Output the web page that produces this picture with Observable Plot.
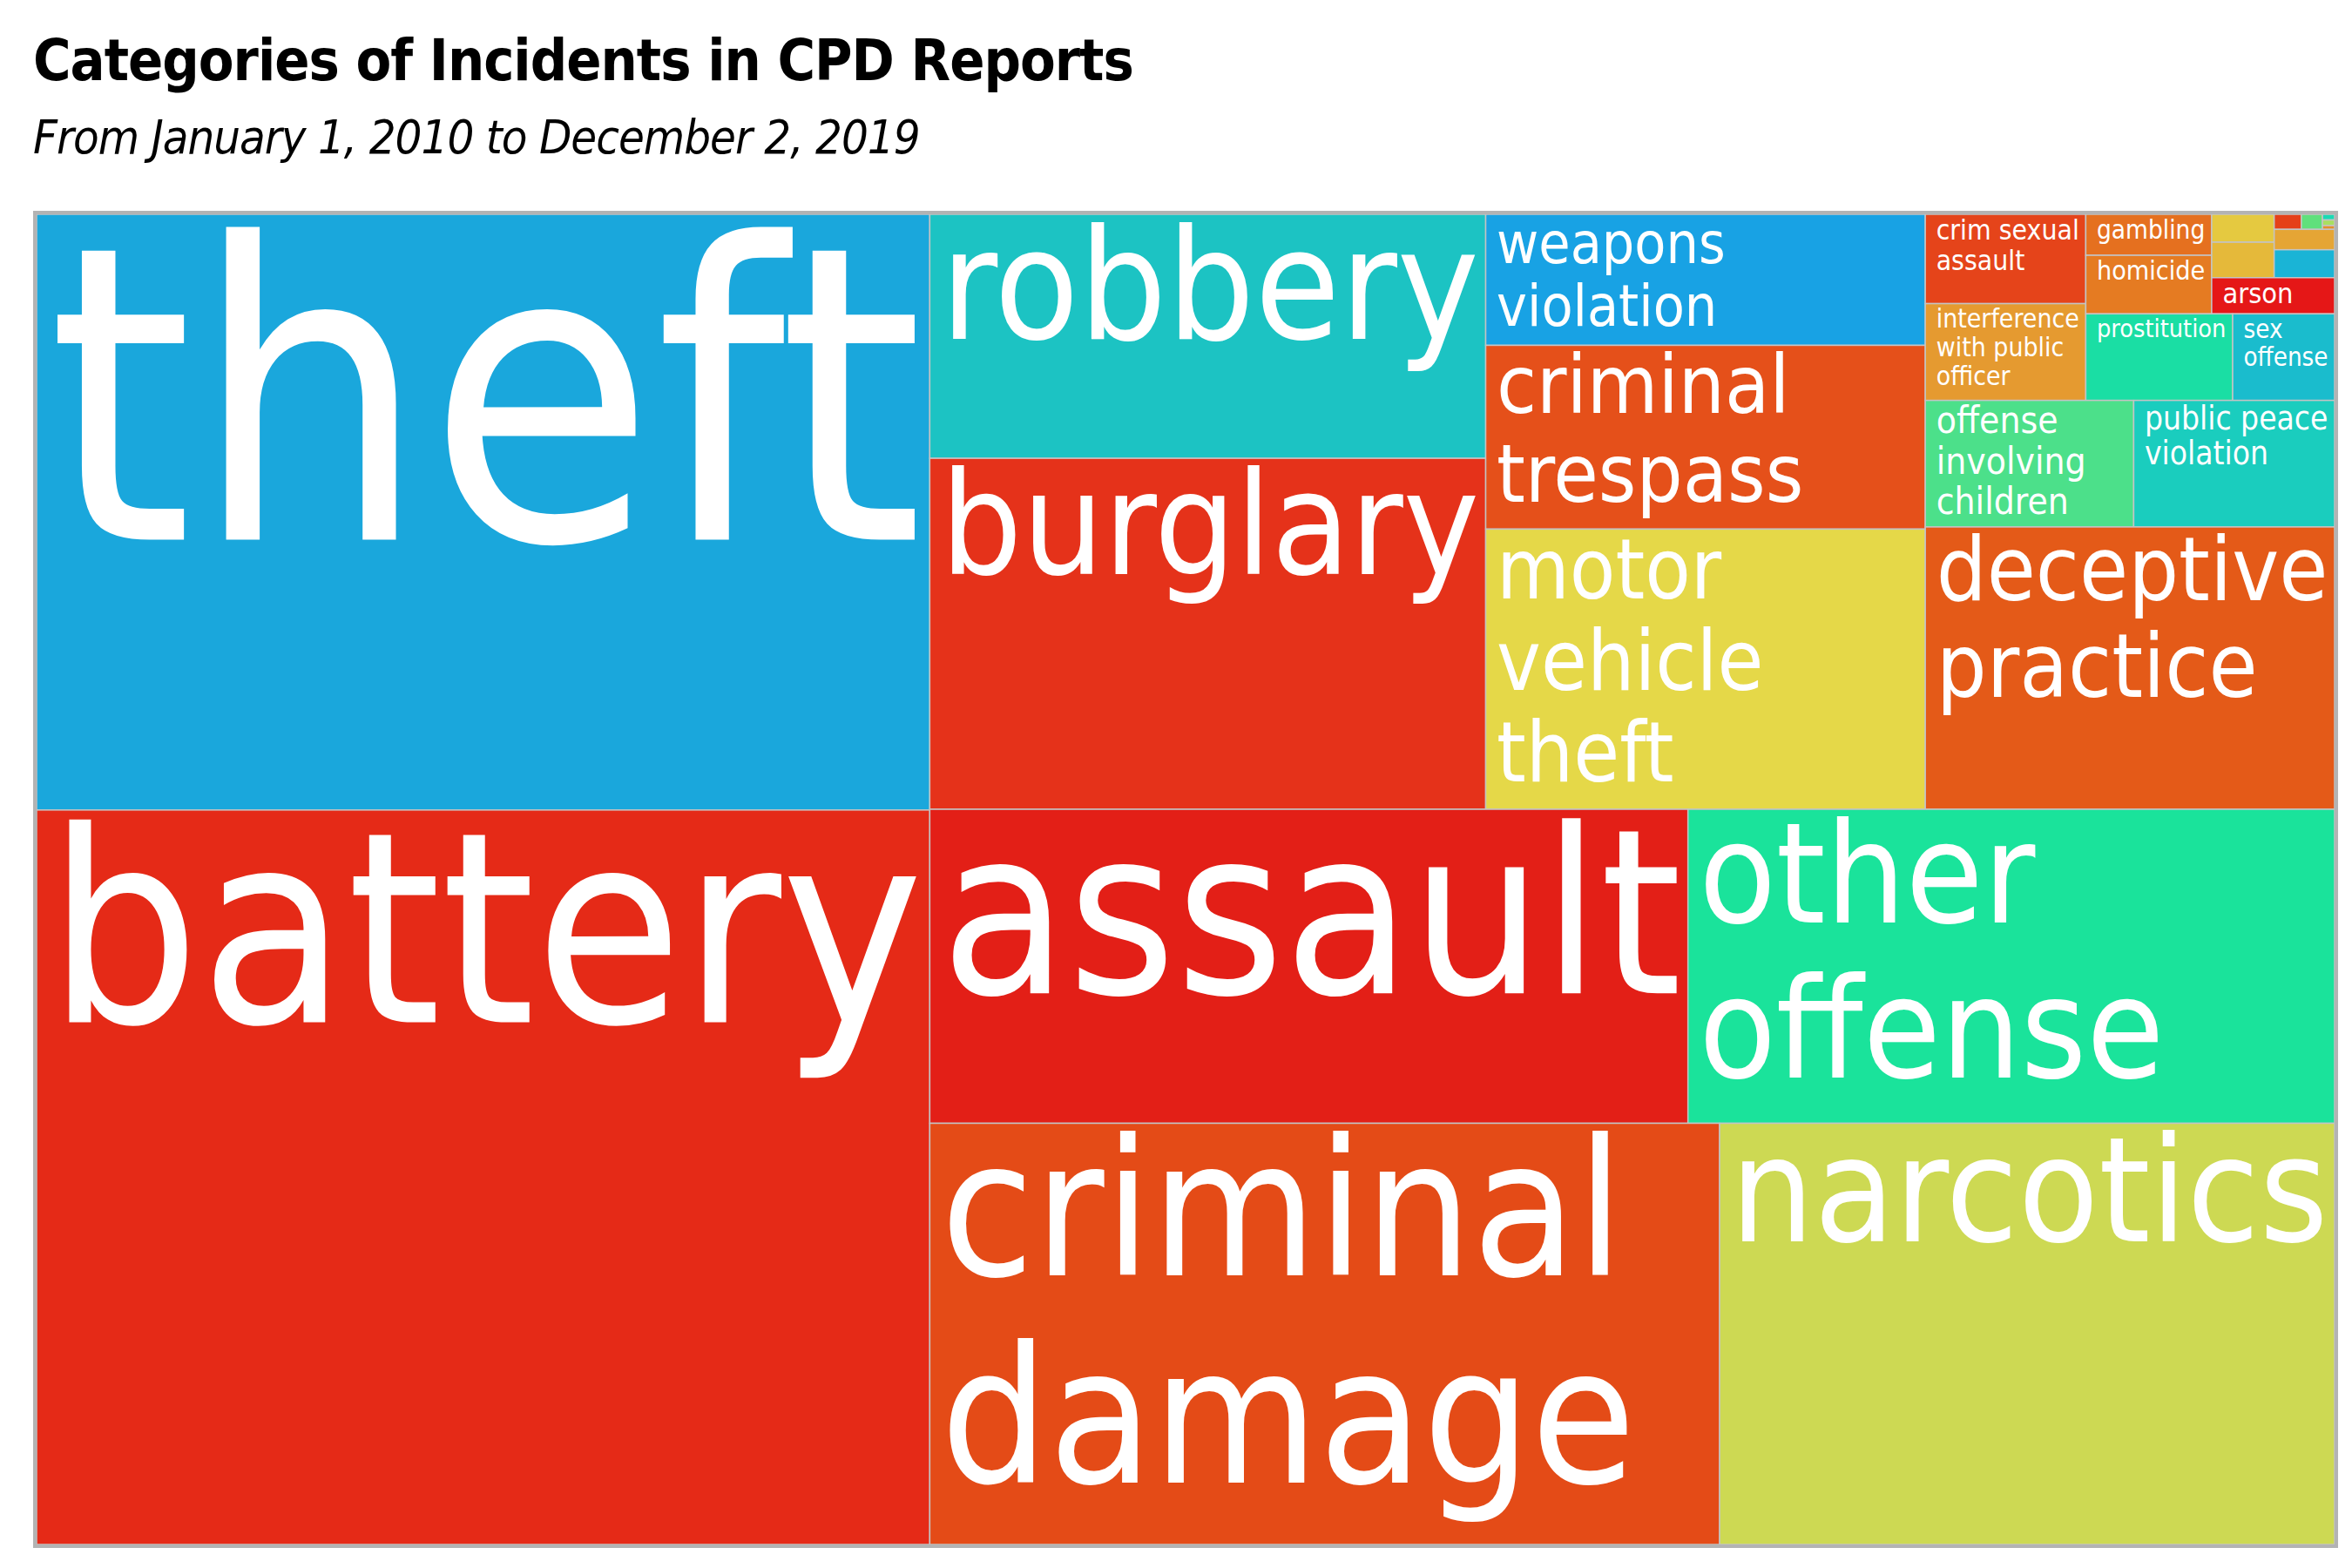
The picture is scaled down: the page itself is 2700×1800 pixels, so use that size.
<!DOCTYPE html>
<html>
<head>
<meta charset="utf-8">
<script src="https://cdn.jsdelivr.net/npm/d3@7"></script>
<script src="https://cdn.jsdelivr.net/npm/@observablehq/plot@0.6"></script>
<style>
  body { margin: 0; background: #fff; font-family: "Liberation Sans Narrow", "DejaVu Sans Condensed", sans-serif; }
  #wrap { padding: 22px 0 0 38px; }
  h1 { font-size: 66px; font-weight: bold; margin: 0; line-height: 96px; letter-spacing: -1px; }
  h2 { font-size: 54px; font-style: italic; font-weight: normal; margin: 0 0 44px 0; line-height: 80px; letter-spacing: -1px; }
  #chart svg { border: 4px solid #b3b3b3; display: block; }
</style>
</head>
<body>
<div id="wrap">
  <h1>Categories of Incidents in CPD Reports</h1>
  <h2>From January 1, 2010 to December 2, 2019</h2>
  <div id="chart"></div>
</div>
<script>
// category names, estimated report counts, colours
const categories = [
  "theft", "battery", "assault", "other offense", "criminal damage", "narcotics",
  "robbery", "burglary", "weapons violation", "criminal trespass", "motor vehicle theft",
  "deceptive practice", "crim sexual assault", "interference with public officer",
  "offense involving children", "public peace violation", "gambling", "homicide",
  "prostitution", "sex offense", "arson", "liquor law violation", "stalking",
  "kidnapping", "intimidation", "obscenity", "public indecency", "human trafficking",
  "concealed carry license violation", "non-criminal"
];
const counts = [
  233840, 288304, 104624, 89232, 146196, 113832,
  59616, 85744, 25317, 35502, 54126,
  50778, 6300, 6825,
  11592, 11172, 2268, 3240,
  5586, 3876, 1955, 767, 974,
  180, 741, 140, 541, 30,
  30, 20
];
const colors = [
  "#1aa7dc", "#e52a17", "#e31f17", "#1ae39b", "#e44b17", "#cdd953",
  "#1cc3c3", "#e5321a", "#18a2e4", "#e5501a", "#e5d848",
  "#e45a18", "#e5441a", "#e59a30",
  "#4ce08a", "#1acdbe", "#e5701f", "#e57b22",
  "#1adea4", "#1abccd", "#e51717", "#e5c940", "#e5b93a",
  "#e54018", "#1ab4d6", "#60e07c", "#e5a535", "#1adab4",
  "#a8e060", "#e5902a"
];
// label line breaks
const labels = {
  "motor vehicle theft": "motor\nvehicle\ntheft",
  "crim sexual assault": "crim sexual\nassault",
  "interference with public officer": "interference\nwith public\nofficer",
  "public peace violation": "public peace\nviolation",
  "offense involving children": "offense\ninvolving\nchildren"
};
const unlabeled = ["liquor law violation", "stalking", "kidnapping", "intimidation", "obscenity",
  "public indecency", "human trafficking", "concealed carry license violation", "non-criminal"];

// nesting of the cells: x = side by side, y = stacked
const layout = ["x", [
  ["y", ["theft", "battery"]],
  ["y", [
    ["x", [
      ["y", ["robbery", "burglary"]],
      ["y", ["weapons violation", "criminal trespass", "motor vehicle theft"]],
      ["y", [
        ["y", [
          ["x", [
            ["y", ["crim sexual assault", "interference with public officer"]],
            ["y", [
              ["x", [
                ["y", ["gambling", "homicide"]],
                ["y", [
                  ["x", [
                    ["y", ["liquor law violation", "stalking"]],
                    ["y", [["x", ["kidnapping", "obscenity", ["y", ["human trafficking", "concealed carry license violation", "non-criminal"]]]], "public indecency", "intimidation"]]
                  ]],
                  "arson"
                ]]
              ]],
              ["x", ["prostitution", "sex offense"]]
            ]]
          ]],
          ["x", ["offense involving children", "public peace violation"]]
        ]],
        "deceptive practice"
      ]]
    ]],
    ["y", [
      ["x", ["assault", "other offense"]],
      ["x", ["criminal damage", "narcotics"]]
    ]]
  ]]
]];

const W = 2638, H = 1527;
const valueOf = new Map(categories.map((c, i) => [c, counts[i]]));

function build(spec) {
  if (typeof spec === "string") return {name: spec, value: valueOf.get(spec)};
  return {dir: spec[0], children: spec[1].map(build)};
}
const root = d3.hierarchy(build(layout)).sum(d => d.value || 0);
d3.treemap()
  .size([W, H])
  .round(false)
  .tile((node, x0, y0, x1, y1) =>
    (node.data.dir === "x" ? d3.treemapDice : d3.treemapSlice)(node, x0, y0, x1, y1))(root);

const ctx = document.createElement("canvas").getContext("2d");
const fontFamily = '"Liberation Sans Narrow", "DejaVu Sans Condensed", sans-serif';
ctx.font = `100px ${fontFamily}`;

const cells = root.leaves().map(d => {
  const name = d.data.name;
  const text = labels[name] || name.replace(/ /g, "\n");
  const lines = text.split("\n");
  const w = d.x1 - d.x0, h = d.y1 - d.y0;
  const tw = d3.max(lines, l => ctx.measureText(l).width) / 100;
  const fs = Math.min((w - 20) / tw, (h - 6) / (lines.length * 1.1));
  return {name, text: unlabeled.includes(name) ? "" : text, x0: d.x0, x1: d.x1, y0: d.y0, y1: d.y1, fs};
});

const chart = Plot.plot({
  width: W,
  height: H,
  margin: 0,
  x: {domain: [0, W], axis: null},
  y: {domain: [0, H], axis: null, reverse: true},
  color: {domain: categories, range: colors},
  style: {fontFamily},
  marks: [
    Plot.rect(cells, {x1: "x0", x2: "x1", y1: "y0", y2: "y1", fill: "name", stroke: "#c4c4c4", strokeWidth: 1.5}),
    Plot.text(cells, {
      x: d => d.x0 + 12,
      y: d => d.y0 + 4,
      text: "text",
      fontSize: "fs",
      textAnchor: "start",
      lineAnchor: "top",
      lineHeight: 1.1,
      fill: "white"
    })
  ]
});
document.getElementById("chart").appendChild(chart);
</script>
</body>
</html>
